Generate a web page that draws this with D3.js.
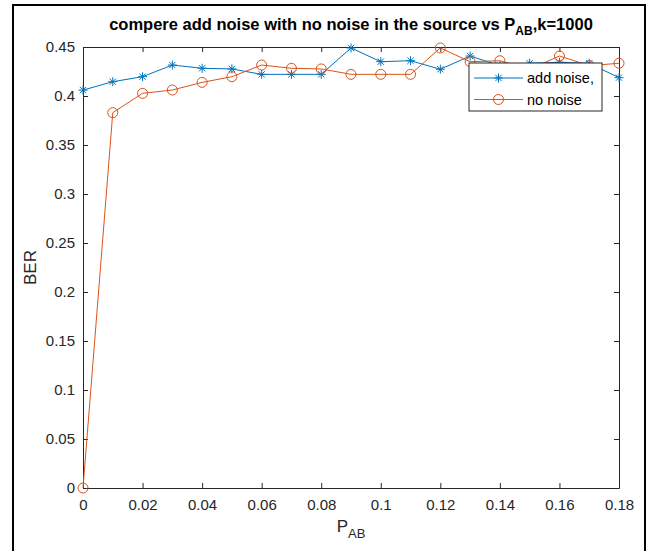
<!DOCTYPE html>
<html lang="en">
<head>
  <meta charset="UTF-8">
  <title>add noise vs no noise</title>
  <style>
    body { margin: 0; background: #fff; }
    svg { display: block; font-family: "Liberation Sans", Arial, sans-serif; }
    .tick text { font-size: 15px; fill: #262626; }
  </style>
</head>
<body>
  <div id="chart"></div>
  <script src="https://d3js.org/d3.v7.min.js"></script>
  <script>
    const width = 651, height = 551;

    // data
    const pab = [0, 0.01, 0.02, 0.03, 0.04, 0.05, 0.06, 0.07, 0.08, 0.09,
                 0.10, 0.11, 0.12, 0.13, 0.14, 0.15, 0.16, 0.17, 0.18];
    const addNoise = [0.406, 0.4146, 0.4197, 0.4316, 0.4283, 0.4276, 0.4221, 0.4221, 0.4221, 0.449,
                      0.435, 0.436, 0.4273, 0.4408, 0.431, 0.4334, 0.4344, 0.4334, 0.4187];
    const noNoise = [0, 0.383, 0.4027, 0.4061, 0.4139, 0.4197, 0.4316, 0.4283, 0.4276, 0.4221,
                     0.4221, 0.4221, 0.449, 0.435, 0.436, 0.4273, 0.4408, 0.431, 0.4334];
    const xTicks = [0, 0.02, 0.04, 0.06, 0.08, 0.1, 0.12, 0.14, 0.16, 0.18];
    const yTicks = [0, 0.05, 0.1, 0.15, 0.2, 0.25, 0.3, 0.35, 0.4, 0.45];
    const seriesNames = ["add noise,", "no noise"];
    const colors = ["#0072BD", "#D95319"];

    const padL = 83, padR = 619, padT = 47, padB = 488;

    const svg = d3.select("#chart").append("svg")
      .attr("width", width).attr("height", height);

    // figure frame
    svg.append("rect")
      .attr("x", 13).attr("y", 5).attr("width", 632).attr("height", 570)
      .attr("fill", "none").attr("stroke", "black").attr("stroke-width", 2);

    const x = d3.scaleLinear().domain([0, 0.18]).range([padL, padR]);
    const y = d3.scaleLinear().domain([0, 0.45]).range([padB, padT]);

    const axisColor = "#262626";

    // axes with inward ticks
    const gx = svg.append("g").attr("transform", `translate(0,${padB})`)
      .call(d3.axisBottom(x).tickValues(xTicks).tickSizeInner(-5).tickSizeOuter(0)
        .tickPadding(9).tickFormat(d3.format("~g")));
    const gy = svg.append("g").attr("transform", `translate(${padL},0)`)
      .call(d3.axisLeft(y).tickValues(yTicks).tickSizeInner(-5).tickSizeOuter(0)
        .tickPadding(8).tickFormat(d3.format("~g")));
    const gxt = svg.append("g").attr("transform", `translate(0,${padT})`)
      .call(d3.axisTop(x).tickValues(xTicks).tickSizeInner(-5).tickSizeOuter(0).tickFormat(""));
    const gyr = svg.append("g").attr("transform", `translate(${padR},0)`)
      .call(d3.axisRight(y).tickValues(yTicks).tickSizeInner(-5).tickSizeOuter(0).tickFormat(""));
    [gx, gy, gxt, gyr].forEach(g => {
      g.selectAll("path, line").attr("stroke", axisColor);
      g.select(".domain").attr("stroke-width", 1);
    });
    gx.selectAll("text").attr("dy", "0.85em");

    // lines
    const rows = [addNoise, noNoise];
    const line = d3.line().x((d, i) => x(pab[i])).y(d => y(d));

    function star(g, cx, cy, c) {
      const r = 4.5;
      [[0, -r, 0, r], [-r, 0, r, 0], [-r * 0.7, -r * 0.7, r * 0.7, r * 0.7], [-r * 0.7, r * 0.7, r * 0.7, -r * 0.7]]
        .forEach(s => g.append("line")
          .attr("x1", cx + s[0]).attr("y1", cy + s[1]).attr("x2", cx + s[2]).attr("y2", cy + s[3])
          .attr("stroke", c).attr("stroke-width", 1));
    }
    function circ(g, cx, cy, c) {
      g.append("circle").attr("cx", cx).attr("cy", cy).attr("r", 5)
        .attr("fill", "none").attr("stroke", c).attr("stroke-width", 1);
    }
    const markers = [star, circ];

    rows.forEach((vals, k) => {
      const g = svg.append("g");
      g.append("path").datum(vals).attr("d", line)
        .attr("fill", "none").attr("stroke", colors[k]).attr("stroke-width", 1);
      vals.forEach((v, i) => markers[k](g, x(pab[i]), y(v), colors[k]));
    });

    // title
    const title = svg.append("text").attr("x", 351).attr("y", 30)
      .attr("text-anchor", "middle").attr("font-size", 16.5).attr("font-weight", "bold")
      .attr("fill", "black");
    title.append("tspan").text("compere add noise with no noise in the source vs P");
    title.append("tspan").attr("font-size", 12).attr("dy", 5).text("AB");
    title.append("tspan").attr("dy", -5).text(",k=1000");

    // axis labels
    const xl = svg.append("text").attr("x", 351).attr("y", 532)
      .attr("text-anchor", "middle").attr("font-size", 17).attr("fill", axisColor);
    xl.append("tspan").text("P");
    xl.append("tspan").attr("font-size", 13).attr("dy", 6).text("AB");

    svg.append("text").attr("transform", `translate(36,${(padT + padB) / 2}) rotate(-90)`)
      .attr("text-anchor", "middle").attr("font-size", 17).attr("fill", axisColor).text("BER");

    // legend
    const lg = svg.append("g").attr("transform", "translate(469,63)");
    lg.append("rect").attr("width", 133).attr("height", 48)
      .attr("fill", "white").attr("stroke", axisColor).attr("stroke-width", 1);
    seriesNames.forEach((name, k) => {
      const ly = 15 + k * 21.5;
      lg.append("line").attr("x1", 5).attr("x2", 54).attr("y1", ly).attr("y2", ly)
        .attr("stroke", colors[k]).attr("stroke-width", 1);
      markers[k](lg, 29.5, ly, colors[k]);
      lg.append("text").attr("x", 58).attr("y", ly + 5).attr("font-size", 14.5)
        .attr("fill", "black").text(name);
    });
  </script>
</body>
</html>
